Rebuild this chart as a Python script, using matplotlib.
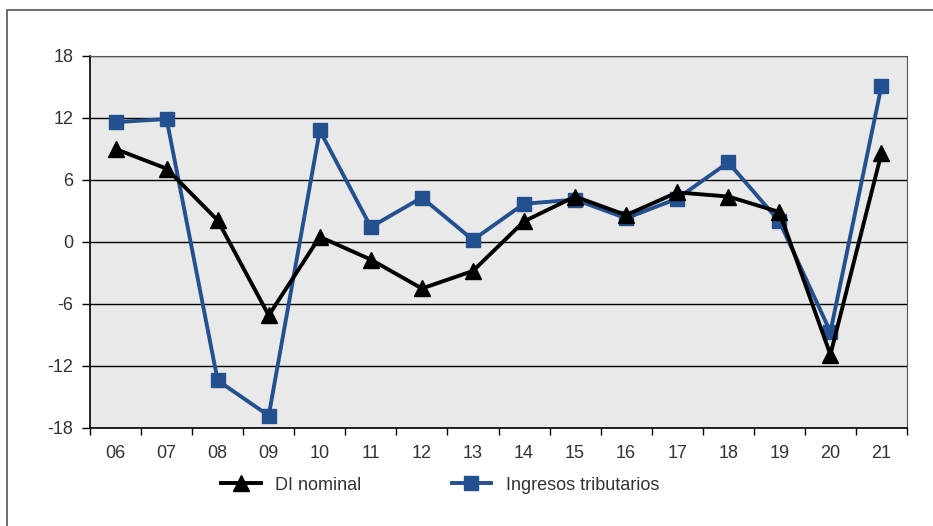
import matplotlib.pyplot as plt
from matplotlib.patches import Rectangle

years = ["06", "07", "08", "09", "10", "11", "12", "13",
         "14", "15", "16", "17", "18", "19", "20", "21"]
di_nominal = [9.0, 7.1, 2.1, -7.1, 0.5, -1.7, -4.5, -2.8,
              2.0, 4.4, 2.6, 4.8, 4.4, 2.9, -10.9, 8.6]
ingresos = [11.6, 11.9, -13.4, -16.8, 10.8, 1.45, 4.3, 0.2,
            3.7, 4.1, 2.3, 4.2, 7.7, 2.0, -8.7, 15.1]
yticks = [-18, -12, -6, 0, 6, 12, 18]

blue = "#23508f"
text_col = "#333333"

plt.rcParams["font.family"] = ["Liberation Sans", "DejaVu Sans"]

fig = plt.figure(figsize=(9.33, 5.26), dpi=100)
# outer frame around the chart
fig.patches.append(Rectangle((7 / 933, -0.05), 1.0, 1 - 10 / 526 + 0.05,
                             transform=fig.transFigure, fill=False,
                             edgecolor="#555555", linewidth=1.2))

ax = fig.add_axes([90 / 933, 1 - 428 / 526, (907 - 90) / 933, (428 - 56) / 526])
ax.set_facecolor("#e9e9e9")

x = list(range(len(years)))
ax.plot(x, ingresos, color=blue, linewidth=2.8, marker="s", markersize=10,
        label="Ingresos tributarios", zorder=3)
ax.plot(x, di_nominal, color="black", linewidth=2.8, marker="^", markersize=11,
        label="DI nominal", zorder=4)

ax.set_xlim(-0.5, len(years) - 0.5)
ax.set_ylim(-18, 18)
ax.set_yticks(yticks)
ax.set_yticklabels([str(v) for v in yticks])
# tick marks sit between categories, labels centred on them
ax.set_xticks([i - 0.5 for i in range(len(years) + 1)], minor=False)
ax.set_xticklabels([])
ax.set_xticks(x, minor=True)
ax.set_xticklabels(years, minor=True)
ax.tick_params(axis="x", which="minor", length=0, pad=12, labelsize=13, labelcolor=text_col)
ax.tick_params(axis="x", which="major", length=5, width=1, direction="out")
ax.tick_params(axis="y", length=6, width=1, direction="out", pad=6,
               labelsize=13, labelcolor=text_col)

ax.grid(axis="y", color="black", linewidth=1)
ax.set_axisbelow(True)
for side in ["top", "right"]:
    ax.spines[side].set_color("#555555")
    ax.spines[side].set_linewidth(0.8)
ax.spines["left"].set_linewidth(1.2)
ax.spines["bottom"].set_linewidth(1.2)

handles, labels = ax.get_legend_handles_labels()
leg = fig.legend(handles[::-1], labels[::-1], loc="center", ncol=2,
                 bbox_to_anchor=(440 / 933, 1 - 485 / 526), frameon=False,
                 handlelength=2.2, columnspacing=5.0, handletextpad=0.8,
                 fontsize=13)
for t in leg.get_texts():
    t.set_color(text_col)

fig.savefig("out.png", dpi=100)
